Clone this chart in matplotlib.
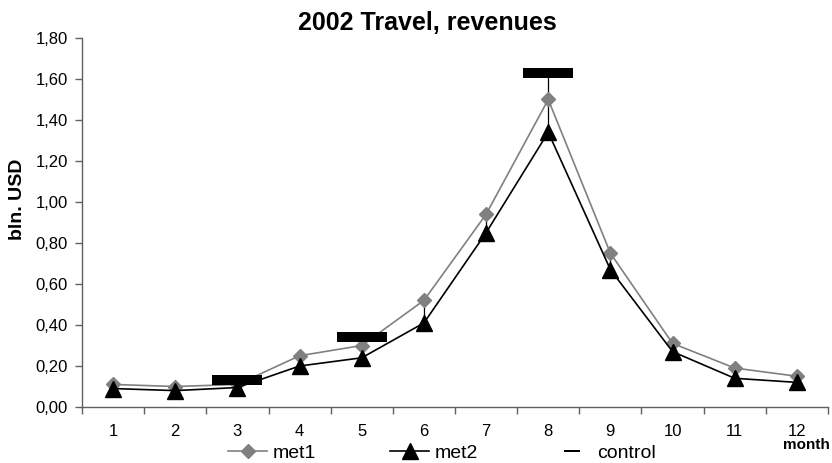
import matplotlib
matplotlib.use("Agg")
import matplotlib.pyplot as plt
from matplotlib.path import Path
from matplotlib.lines import Line2D
from matplotlib.ticker import FixedLocator, FuncFormatter
import numpy as np

plt.rcParams['font.family'] = ['Liberation Sans', 'DejaVu Sans']

months = [1, 2, 3, 4, 5, 6, 7, 8, 9, 10, 11, 12]
met1 = [0.11, 0.10, 0.11, 0.25, 0.30, 0.52, 0.94, 1.50, 0.75, 0.31, 0.19, 0.15]
met2 = [0.09, 0.08, 0.095, 0.20, 0.24, 0.41, 0.85, 1.34, 0.67, 0.27, 0.14, 0.12]
control_months = [3, 5, 8]
control = [0.13, 0.34, 1.63]

title = "2002 Travel, revenues"
ylabel = "bln. USD"
xlabel = "month"
yticks = [0.0, 0.2, 0.4, 0.6, 0.8, 1.0, 1.2, 1.4, 1.6, 1.8]

fig = plt.figure(figsize=(8.32, 4.63), dpi=100)
W, H = 832, 463
ax = fig.add_axes([82 / W, 1 - 407 / H, (828 - 82) / W, (407 - 38) / H])

# high-low lines
ctrl = dict(zip(control_months, control))
lo, hi = [], []
for m, a, b in zip(months, met1, met2):
    vals = [a, b] + ([ctrl[m]] if m in ctrl else [])
    lo.append(min(vals))
    hi.append(max(vals))
ax.vlines(months, lo, hi, color='black', lw=0.9, zorder=1)

ax.plot(months, met1, color='#808080', lw=1.2, marker='D', markersize=7.2,
        markerfacecolor='#808080', markeredgecolor='#808080', zorder=3)
ax.plot(months, met2, color='black', lw=1.2, marker='^', markersize=11,
        markerfacecolor='black', markeredgecolor='black', zorder=4)

rect = Path([(-1, -0.19), (1, -0.19), (1, 0.19), (-1, 0.19), (-1, -0.19)],
            [Path.MOVETO, Path.LINETO, Path.LINETO, Path.LINETO, Path.CLOSEPOLY])
ax.plot(control_months, control, linestyle='none', marker=rect, markersize=36,
        markerfacecolor='black', markeredgecolor='black', markeredgewidth=0, zorder=5)

ax.set_xlim(0.5, 12.5)
ax.set_ylim(0, 1.8)
ax.set_yticks(yticks)
ax.yaxis.set_major_formatter(FuncFormatter(lambda v, p: f"{v:.2f}".replace('.', ',')))
ax.set_xticks(months)
ax.set_xticklabels([str(m) for m in months])
ax.xaxis.set_minor_locator(FixedLocator(np.arange(0.5, 12.6, 1.0)))
ax.tick_params(axis='x', which='major', length=0, pad=12, labelsize=12)
ax.tick_params(axis='x', which='minor', length=5, width=1, color='#606060', direction='out')
ax.tick_params(axis='y', which='major', length=5, width=1, color='#606060', direction='out',
               pad=5, labelsize=12)
for s in ['top', 'right']:
    ax.spines[s].set_visible(False)
for s in ['left', 'bottom']:
    ax.spines[s].set_color('#606060')
    ax.spines[s].set_linewidth(1.0)

fig.text(427 / W, 1 - 29.5 / H, title, ha='center', va='baseline',
         fontsize=18, fontweight='bold')
fig.text(18 / W, 1 - 199 / H, ylabel, rotation=90, ha='center', va='center',
         fontsize=14, fontweight='bold')
fig.text(830 / W, 1 - 449 / H, xlabel, ha='right', va='baseline',
         fontsize=11, fontweight='bold')

handles = [
    Line2D([], [], color='#808080', lw=1.2, marker='D', markersize=7.2,
           markerfacecolor='#808080', markeredgecolor='#808080'),
    Line2D([], [], color='black', lw=1.2, marker='^', markersize=11,
           markerfacecolor='black', markeredgecolor='black'),
    Line2D([], [], linestyle='none', marker=rect, markersize=11,
           markerfacecolor='black', markeredgewidth=0),
]
fig.legend(handles, ['met1', 'met2', 'control'], loc='center',
           bbox_to_anchor=(442 / W, 1 - 453 / H), ncol=3, frameon=False,
           fontsize=14, handlelength=2.0, handletextpad=0.3, columnspacing=3.8,
           borderpad=0, borderaxespad=0)

fig.savefig("out.png", dpi=100)
